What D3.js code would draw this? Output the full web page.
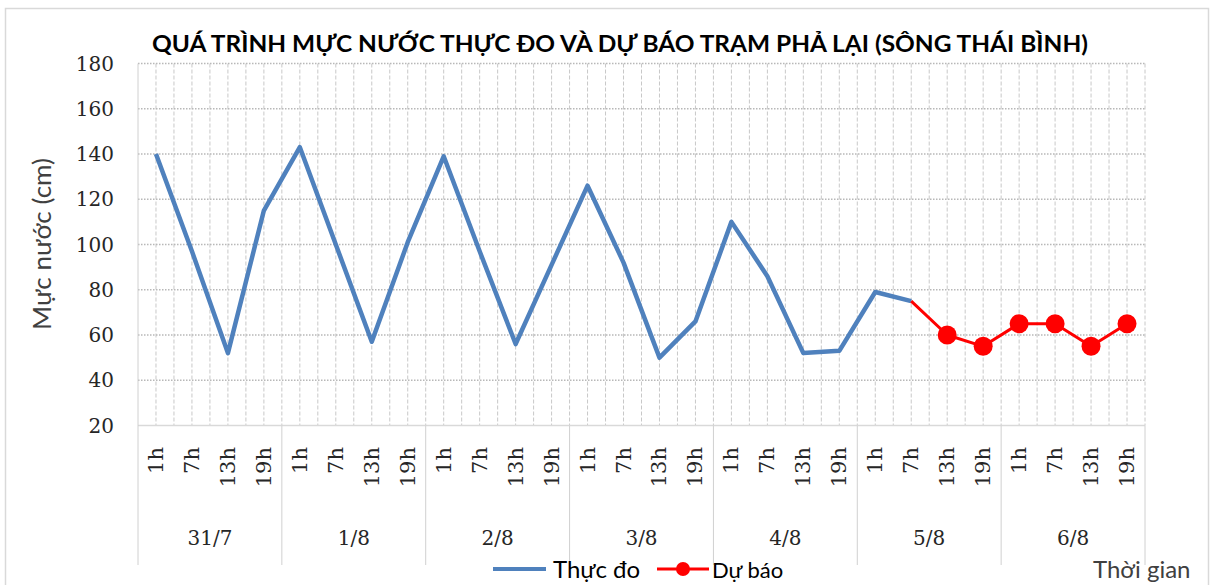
<!DOCTYPE html>
<html>
<head>
<meta charset="utf-8">
<script src="https://cdn.jsdelivr.net/npm/d3@7"></script>
<style>
  body { margin: 0; background: #fff; }
  text { fill: #262626; }
</style>
</head>
<body>
<svg id="chart" width="1215" height="585"></svg>
<script>
// du lieu
var days = ["31/7", "1/8", "2/8", "3/8", "4/8", "5/8", "6/8"];
var hours = ["1h", "7h", "13h", "19h"];
var yTicks = [20, 40, 60, 80, 100, 120, 140, 160, 180];
// thuc do : tu 1h 31/7 den 7h 5/8
var observed = [140, 97, 52, 115, 143, 100, 57, 101, 139, 97, 56, 91,
                126, 92, 50, 66, 110, 86, 52, 53, 79, 75];
// du bao : bat dau tu 7h 5/8
var forecastStart = 21;
var forecast = [75, 60, 55, 65, 65, 55, 65];

var svg = d3.select("#chart");

var plotLeft = 138, plotRight = 1145, plotTop = 63.5, plotBottom = 425.5;

var cats = [];
days.forEach(function(d) { hours.forEach(function(h) { cats.push({day: d, hour: h}); }); });

var x = d3.scaleBand().domain(d3.range(cats.length)).range([plotLeft, plotRight]).padding(0);
var y = d3.scaleLinear().domain([20, 180]).range([plotBottom, plotTop]);
var bw = x.bandwidth();

// khung bieu do
svg.append("rect")
  .attr("x", 5.5).attr("y", 8.5).attr("width", 1203).attr("height", 600)
  .attr("fill", "none").attr("stroke", "#d9d9d9").attr("stroke-width", 1.5);

// luoi doc
var vlines = [];
cats.forEach(function(c, i) { vlines.push(x(i)); vlines.push(x(i) + bw / 2); });
vlines.push(plotRight);
svg.append("g").selectAll("line")
  .data(vlines.filter(function(v) { return v > plotLeft; }))
  .enter().append("line")
  .attr("x1", function(d) { return d; }).attr("x2", function(d) { return d; })
  .attr("y1", plotTop).attr("y2", plotBottom)
  .attr("stroke", "#c8c8c8").attr("stroke-width", 1)
  .attr("stroke-dasharray", "4,2");

// luoi ngang
svg.append("g").selectAll("line")
  .data(yTicks.filter(function(t) { return t > 20; }))
  .enter().append("line")
  .attr("x1", plotLeft).attr("x2", plotRight)
  .attr("y1", function(d) { return y(d); }).attr("y2", function(d) { return y(d); })
  .attr("stroke", "#b8b8b8").attr("stroke-width", 1.5)
  .attr("stroke-dasharray", "1.5,1.5");

// truc
svg.append("line").attr("x1", plotLeft).attr("x2", plotRight).attr("y1", plotBottom).attr("y2", plotBottom)
  .attr("stroke", "#d9d9d9").attr("stroke-width", 1.5);
svg.append("line").attr("x1", plotLeft).attr("x2", plotLeft).attr("y1", plotTop).attr("y2", 565)
  .attr("stroke", "#d0d0d0").attr("stroke-width", 1);
svg.append("g").selectAll("line")
  .data(d3.range(1, days.length + 1))
  .enter().append("line")
  .attr("x1", function(d) { return x(d * 4 - 1) + bw; })
  .attr("x2", function(d) { return x(d * 4 - 1) + bw; })
  .attr("y1", plotBottom).attr("y2", 565)
  .attr("stroke", "#d0d0d0").attr("stroke-width", 1);

// nhan truc y
svg.append("g").selectAll("text")
  .data(yTicks)
  .enter().append("text")
  .attr("x", 114).attr("y", function(d) { return y(d) + 7; })
  .attr("text-anchor", "end")
  .style("font-family", "DejaVu Serif").style("font-size", "20px")
  .text(function(d) { return d; });

// nhan gio
svg.append("g").selectAll("text")
  .data(cats)
  .enter().append("text")
  .attr("transform", function(d, i) { return "translate(" + (x(i) + bw / 2 + 7) + ",447) rotate(-90)"; })
  .attr("text-anchor", "end")
  .style("font-family", "DejaVu Serif").style("font-size", "21px")
  .text(function(d) { return d.hour; });

// nhan ngay
svg.append("g").selectAll("text")
  .data(days)
  .enter().append("text")
  .attr("x", function(d, i) { return x(i * 4) + bw * 2; })
  .attr("y", 545)
  .attr("text-anchor", "middle")
  .style("font-family", "DejaVu Serif").style("font-size", "20px")
  .text(function(d) { return d; });

// tieu de
svg.append("text")
  .attr("x", 620).attr("y", 52)
  .attr("text-anchor", "middle")
  .attr("textLength", 936).attr("lengthAdjust", "spacingAndGlyphs")
  .style("font-family", "Lato").style("font-weight", "bold").style("font-size", "22px")
  .style("fill", "#000")
  .text("QUÁ TRÌNH MỰC NƯỚC THỰC ĐO VÀ DỰ BÁO TRẠM PHẢ LẠI (SÔNG THÁI BÌNH)");

svg.append("text")
  .attr("transform", "translate(51,244) rotate(-90)")
  .attr("text-anchor", "middle")
  .attr("textLength", 172).attr("lengthAdjust", "spacingAndGlyphs")
  .style("font-family", "Lato").style("font-size", "25px").style("fill", "#404040")
  .text("Mực nước (cm)");

svg.append("text")
  .attr("x", 1093).attr("y", 578)
  .style("font-family", "Lato").style("font-size", "24px").style("fill", "#404040")
  .text("Thời gian");

// duong thuc do
var line = d3.line()
  .x(function(d) { return x(d.i) + bw / 2; })
  .y(function(d) { return y(d.v); });

var obsData = observed.map(function(v, i) { return {i: i, v: v}; });
var fcData = forecast.map(function(v, i) { return {i: forecastStart + i, v: v}; });

svg.append("path").datum(obsData)
  .attr("d", line).attr("fill", "none")
  .attr("stroke", "#4f81bd").attr("stroke-width", 4.5).attr("stroke-linejoin", "round");

svg.append("path").datum(fcData)
  .attr("d", line).attr("fill", "none")
  .attr("stroke", "#ff0000").attr("stroke-width", 3).attr("stroke-linejoin", "round");

svg.append("g").selectAll("circle")
  .data(fcData.slice(1))
  .enter().append("circle")
  .attr("cx", function(d) { return x(d.i) + bw / 2; })
  .attr("cy", function(d) { return y(d.v); })
  .attr("r", 9.5)
  .attr("fill", "#ff0000");

// chu thich
var lg = svg.append("g");
lg.append("line").attr("x1", 493).attr("x2", 546).attr("y1", 569).attr("y2", 569)
  .attr("stroke", "#4f81bd").attr("stroke-width", 4);
lg.append("text").attr("x", 553).attr("y", 578)
  .style("font-family", "Lato").style("font-size", "24px").style("fill", "#000")
  .text("Thực đo");
lg.append("line").attr("x1", 657).attr("x2", 709).attr("y1", 569).attr("y2", 569)
  .attr("stroke", "#ff0000").attr("stroke-width", 3);
lg.append("circle").attr("cx", 683).attr("cy", 569).attr("r", 7).attr("fill", "#ff0000");
lg.append("text").attr("x", 712).attr("y", 578)
  .style("font-family", "Lato").style("font-size", "22px").style("fill", "#000")
  .text("Dự báo");
</script>
</body>
</html>
